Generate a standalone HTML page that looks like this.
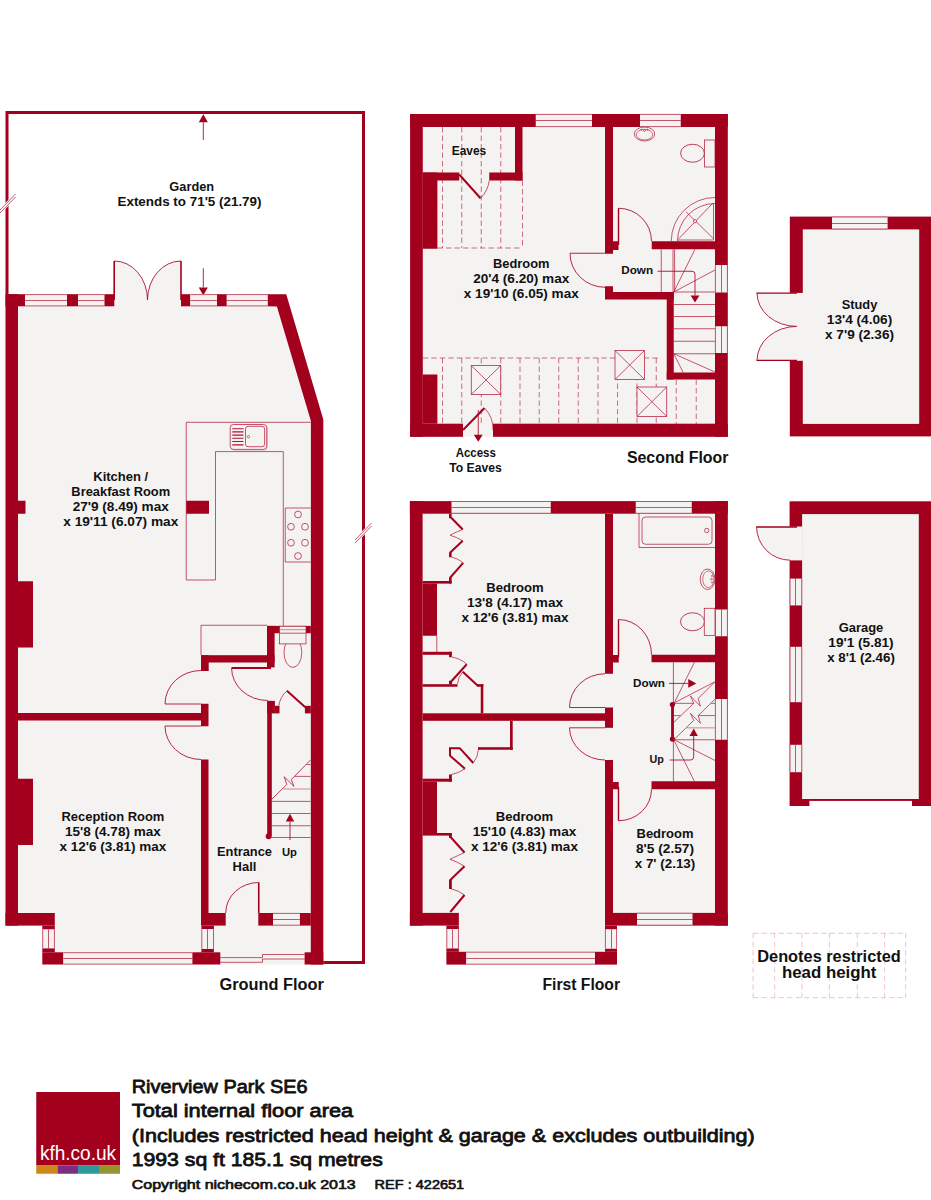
<!DOCTYPE html>
<html><head><meta charset="utf-8"><title>Riverview Park SE6 floor plan</title>
<style>
html,body{margin:0;padding:0;background:#fff;}
svg{display:block;font-family:"Liberation Sans",sans-serif;}
</style></head><body>
<svg width="931" height="1200" viewBox="0 0 931 1200">
<rect width="931" height="1200" fill="#fff"/>
<g id="ground">
<path d="M7 294 V112.5 H363.5 V962.5 H323" stroke="#a3001e" stroke-width="3" fill="none" />
<path d="M-1 212.5 L15.5 195.5" stroke="#fff" stroke-width="4.2" fill="none" />
<line x1="-1.00" y1="211.00" x2="15.50" y2="194.00" stroke="#b01030" stroke-width="0.7" />
<line x1="-1.00" y1="214.00" x2="15.50" y2="197.00" stroke="#b01030" stroke-width="0.7" />
<path d="M355 541.5 L371.5 524.5" stroke="#fff" stroke-width="4.2" fill="none" />
<line x1="355.00" y1="540.00" x2="371.50" y2="523.00" stroke="#b01030" stroke-width="0.7" />
<line x1="355.00" y1="543.00" x2="371.50" y2="526.00" stroke="#b01030" stroke-width="0.7" />
<line x1="203.30" y1="140.00" x2="203.30" y2="122.20" stroke="#b01030" stroke-width="0.9" />
<polygon points="198.80,122.20 207.80,122.20 203.30,114.20" fill="#a3001e" />
<line x1="203.30" y1="268.20" x2="203.30" y2="287.40" stroke="#b01030" stroke-width="0.9" />
<polygon points="198.80,287.40 207.80,287.40 203.30,295.40" fill="#a3001e" />
<polygon points="5.50,294.20 286.25,294.20 323.30,419.60 323.30,964.50 42.30,964.50 42.30,925.60 5.50,925.60" fill="#f4f3f1" />
<path d="M114.3 261 A33.2 39 0 0 1 147.5 300 A33.5 39 0 0 1 181 261 V306 H114.3 Z" stroke="none" stroke-width="0" fill="#f4f3f1" />
<path d="M114.3 261 A33.2 39 0 0 1 147.5 300 A33.5 39 0 0 1 181 261" stroke="#b01030" stroke-width="0.9" fill="none" />
<line x1="114.20" y1="260.90" x2="114.20" y2="300.00" stroke="#a3001e" stroke-width="1.6" />
<line x1="181.00" y1="260.90" x2="181.00" y2="300.00" stroke="#a3001e" stroke-width="1.6" />
<rect x="5.50" y="294.20" width="12.50" height="631.40" fill="#a3001e" />
<rect x="5.50" y="294.20" width="19.50" height="12.10" fill="#a3001e" />
<rect x="25.00" y="294.20" width="42.00" height="12.10" fill="#f4f3f1" />
<line x1="25.00" y1="294.60" x2="67.00" y2="294.60" stroke="#b01030" stroke-width="0.7" />
<line x1="25.00" y1="300.50" x2="67.00" y2="300.50" stroke="#b01030" stroke-width="0.7" />
<line x1="25.00" y1="305.90" x2="67.00" y2="305.90" stroke="#b01030" stroke-width="0.7" />
<rect x="67.00" y="294.20" width="11.00" height="12.10" fill="#a3001e" />
<rect x="78.00" y="294.20" width="26.50" height="12.10" fill="#f4f3f1" />
<line x1="78.00" y1="294.60" x2="104.50" y2="294.60" stroke="#b01030" stroke-width="0.7" />
<line x1="78.00" y1="300.50" x2="104.50" y2="300.50" stroke="#b01030" stroke-width="0.7" />
<line x1="78.00" y1="305.90" x2="104.50" y2="305.90" stroke="#b01030" stroke-width="0.7" />
<rect x="104.50" y="294.20" width="9.80" height="12.10" fill="#a3001e" />
<rect x="181.00" y="294.20" width="9.40" height="12.10" fill="#a3001e" />
<rect x="190.40" y="294.20" width="26.60" height="12.10" fill="#f4f3f1" />
<line x1="190.40" y1="294.60" x2="217.00" y2="294.60" stroke="#b01030" stroke-width="0.7" />
<line x1="190.40" y1="300.50" x2="217.00" y2="300.50" stroke="#b01030" stroke-width="0.7" />
<line x1="190.40" y1="305.90" x2="217.00" y2="305.90" stroke="#b01030" stroke-width="0.7" />
<rect x="217.00" y="294.20" width="9.80" height="12.10" fill="#a3001e" />
<rect x="226.80" y="294.20" width="41.00" height="12.10" fill="#f4f3f1" />
<line x1="226.80" y1="294.60" x2="267.80" y2="294.60" stroke="#b01030" stroke-width="0.7" />
<line x1="226.80" y1="300.50" x2="267.80" y2="300.50" stroke="#b01030" stroke-width="0.7" />
<line x1="226.80" y1="305.90" x2="267.80" y2="305.90" stroke="#b01030" stroke-width="0.7" />
<polygon points="267.80,294.20 286.25,294.20 323.30,419.60 323.30,964.50 310.80,964.50 310.90,421.00 276.90,306.50 267.80,306.30" fill="#a3001e" />
<rect x="18.00" y="500.75" width="7.50" height="13.00" fill="#a3001e" />
<rect x="18.00" y="581.25" width="15.00" height="66.25" fill="#a3001e" />
<rect x="18.00" y="778.75" width="15.00" height="66.25" fill="#a3001e" />
<rect x="18.00" y="713.00" width="183.50" height="7.50" fill="#a3001e" />
<rect x="201.00" y="703.75" width="7.50" height="22.50" fill="#a3001e" />
<rect x="201.00" y="759.50" width="7.50" height="153.50" fill="#a3001e" />
<rect x="201.00" y="913.00" width="24.70" height="12.60" fill="#a3001e" />
<rect x="5.50" y="913.00" width="49.30" height="12.60" fill="#a3001e" />
<rect x="42.30" y="925.60" width="12.50" height="3.90" fill="#a3001e" />
<rect x="42.30" y="929.50" width="12.50" height="18.90" fill="#f4f3f1" />
<line x1="42.70" y1="929.50" x2="42.70" y2="948.40" stroke="#b01030" stroke-width="0.7" />
<line x1="48.50" y1="929.50" x2="48.50" y2="948.40" stroke="#b01030" stroke-width="0.7" />
<line x1="54.40" y1="929.50" x2="54.40" y2="948.40" stroke="#b01030" stroke-width="0.7" />
<rect x="42.30" y="948.40" width="12.50" height="3.90" fill="#a3001e" />
<rect x="42.30" y="952.30" width="21.10" height="12.20" fill="#a3001e" />
<rect x="63.40" y="952.30" width="129.00" height="12.20" fill="#f4f3f1" />
<line x1="63.40" y1="952.70" x2="192.40" y2="952.70" stroke="#b01030" stroke-width="0.7" />
<line x1="63.40" y1="958.50" x2="192.40" y2="958.50" stroke="#b01030" stroke-width="0.7" />
<line x1="63.40" y1="964.10" x2="192.40" y2="964.10" stroke="#b01030" stroke-width="0.7" />
<rect x="192.40" y="952.30" width="27.90" height="12.20" fill="#a3001e" />
<rect x="201.40" y="948.80" width="12.50" height="3.50" fill="#a3001e" />
<rect x="201.40" y="925.60" width="12.50" height="3.60" fill="#a3001e" />
<rect x="201.40" y="929.20" width="12.50" height="19.60" fill="#f4f3f1" />
<line x1="201.80" y1="929.20" x2="201.80" y2="948.80" stroke="#b01030" stroke-width="0.7" />
<line x1="207.50" y1="929.20" x2="207.50" y2="948.80" stroke="#b01030" stroke-width="0.7" />
<line x1="213.50" y1="929.20" x2="213.50" y2="948.80" stroke="#b01030" stroke-width="0.7" />
<rect x="258.30" y="913.00" width="14.70" height="12.60" fill="#a3001e" />
<rect x="273.00" y="913.00" width="26.90" height="12.60" fill="#f4f3f1" />
<line x1="273.00" y1="913.40" x2="299.90" y2="913.40" stroke="#b01030" stroke-width="0.7" />
<line x1="273.00" y1="919.50" x2="299.90" y2="919.50" stroke="#b01030" stroke-width="0.7" />
<line x1="273.00" y1="925.20" x2="299.90" y2="925.20" stroke="#b01030" stroke-width="0.7" />
<rect x="299.90" y="913.00" width="10.90" height="12.60" fill="#a3001e" />
<rect x="304.60" y="952.30" width="18.70" height="12.20" fill="#a3001e" />
<path d="M220.3 957.6 H262.5 V954.5 H304.6" stroke="#b01030" stroke-width="0.7" fill="none" />
<path d="M220.3 962.3 H262.5 V959 H304.6" stroke="#b01030" stroke-width="0.7" fill="none" />
<rect x="201.00" y="655.20" width="73.60" height="7.30" fill="#a3001e" />
<rect x="267.00" y="625.90" width="7.60" height="41.50" fill="#a3001e" />
<rect x="201.00" y="655.20" width="7.70" height="15.80" fill="#a3001e" />
<rect x="267.00" y="625.90" width="43.80" height="7.30" fill="#a3001e" />
<rect x="267.20" y="700.90" width="4.60" height="135.35" fill="#a3001e" />
<circle cx="268.6" cy="836.25" r="2.9" fill="#a3001e"/>
<rect x="267.20" y="700.90" width="7.70" height="12.50" fill="#a3001e" />
<rect x="274.90" y="705.80" width="4.60" height="7.60" fill="#a3001e" />
<rect x="304.90" y="705.80" width="5.90" height="7.60" fill="#a3001e" />
<path d="M310.8 422.3 H186.25 V580 H215.5 V451.6 H283.3 V625.75" stroke="#b01030" stroke-width="0.7" fill="none" />
<rect x="186.25" y="500.75" width="22.75" height="13.00" fill="#a3001e" />
<rect x="231" y="425.3" width="36.5" height="24.9" rx="3.2" fill="none" stroke="#e3b1bb" stroke-width="0.8"/>
<rect x="230.2" y="424.5" width="36.5" height="24.9" rx="3.2" fill="#f4f3f1" stroke="#b01030" stroke-width="0.7"/>
<rect x="245.5" y="426.3" width="19.1" height="20.4" rx="2.6" fill="none" stroke="#b01030" stroke-width="0.7"/>
<line x1="232.70" y1="428.70" x2="243.10" y2="428.70" stroke="#b01030" stroke-width="1.1" stroke-linecap="round"/>
<line x1="232.70" y1="431.90" x2="243.10" y2="431.90" stroke="#b01030" stroke-width="1.1" stroke-linecap="round"/>
<line x1="232.70" y1="435.10" x2="243.10" y2="435.10" stroke="#b01030" stroke-width="1.1" stroke-linecap="round"/>
<line x1="232.70" y1="438.30" x2="243.10" y2="438.30" stroke="#b01030" stroke-width="1.1" stroke-linecap="round"/>
<line x1="232.70" y1="441.50" x2="243.10" y2="441.50" stroke="#b01030" stroke-width="1.1" stroke-linecap="round"/>
<line x1="232.70" y1="444.90" x2="243.10" y2="444.90" stroke="#b01030" stroke-width="1.1" stroke-linecap="round"/>
<circle cx="248.50" cy="436.70" r="1.20" stroke="#b01030" stroke-width="0.6" fill="none"/>
<path d="M310.8 508 H285.25 V562 H310.8" stroke="#b01030" stroke-width="0.7" fill="none" />
<circle cx="298.00" cy="514.50" r="3.40" stroke="#b01030" stroke-width="0.7" fill="none"/>
<circle cx="291.00" cy="526.75" r="3.40" stroke="#b01030" stroke-width="0.7" fill="none"/>
<circle cx="305.00" cy="526.75" r="3.40" stroke="#b01030" stroke-width="0.7" fill="none"/>
<circle cx="291.00" cy="542.75" r="3.40" stroke="#b01030" stroke-width="0.7" fill="none"/>
<circle cx="305.00" cy="542.75" r="3.40" stroke="#b01030" stroke-width="0.7" fill="none"/>
<circle cx="298.00" cy="556.00" r="3.40" stroke="#b01030" stroke-width="0.7" fill="none"/>
<path d="M201 655 V625.25 H267" stroke="#b01030" stroke-width="0.7" fill="none" />
<ellipse cx="292.90" cy="652.50" rx="8.90" ry="14.90" stroke="#b01030" stroke-width="0.7" fill="none"/>
<rect x="279.50" y="626.20" width="26.50" height="17.70" fill="#f4f3f1" stroke="#b01030" stroke-width="0.7"/>
<line x1="279.50" y1="633.20" x2="306.00" y2="633.20" stroke="#b01030" stroke-width="0.7" />
<line x1="279.50" y1="629.70" x2="306.00" y2="629.70" stroke="#b01030" stroke-width="0.5" />
<path d="M201 670.5 A36 33.5 0 0 0 165 704 H201" stroke="#b01030" stroke-width="0.9" fill="none" />
<path d="M201 759.5 A36 33.5 0 0 1 165 726 H201" stroke="#b01030" stroke-width="0.9" fill="none" />
<path d="M231.6 668 A36 32.5 0 0 0 267.6 700.5" stroke="#b01030" stroke-width="0.9" fill="none" />
<line x1="231.60" y1="668.00" x2="271.00" y2="668.00" stroke="#a3001e" stroke-width="1.8" />
<line x1="286.90" y1="690.80" x2="305.30" y2="707.20" stroke="#a3001e" stroke-width="2" />
<path d="M286.9 690.8 A25 25 0 0 0 278.8 705.8" stroke="#b01030" stroke-width="0.7" fill="none" />
<line x1="270.00" y1="801.40" x2="310.60" y2="801.40" stroke="#b01030" stroke-width="0.7" />
<line x1="270.00" y1="813.50" x2="310.60" y2="813.50" stroke="#b01030" stroke-width="0.7" />
<line x1="270.00" y1="825.75" x2="310.60" y2="825.75" stroke="#b01030" stroke-width="0.7" />
<line x1="270.00" y1="837.50" x2="310.60" y2="837.50" stroke="#b01030" stroke-width="0.7" />
<line x1="306.50" y1="764.50" x2="310.60" y2="764.50" stroke="#b01030" stroke-width="0.7" />
<line x1="294.90" y1="776.40" x2="310.60" y2="776.40" stroke="#b01030" stroke-width="0.7" />
<line x1="283.30" y1="789.00" x2="310.60" y2="789.00" stroke="#dba3ae" stroke-width="1.4" />
<path d="M270.05 800.9 L286.8 784.5 L284.2 776.7 L293.9 786.4 L291.3 779.6 L310.8 759.7" stroke="#b01030" stroke-width="0.8" fill="none" stroke-linejoin="miter"/>
<line x1="290.00" y1="840.00" x2="290.00" y2="821.50" stroke="#b01030" stroke-width="0.9" />
<polygon points="285.80,821.50 294.20,821.50 290.00,813.80" fill="#a3001e" />
<line x1="258.75" y1="882.50" x2="258.75" y2="913.00" stroke="#a3001e" stroke-width="1.6" />
<path d="M225.7 913 A33 30.5 0 0 1 258.75 882.5" stroke="#b01030" stroke-width="0.9" fill="none" />
<text x="191.75" y="190.50" font-size="12.5" font-weight="bold" text-anchor="middle" fill="#111" textLength="44.8" lengthAdjust="spacingAndGlyphs" >Garden</text>
<text x="189.50" y="205.50" font-size="12.5" font-weight="bold" text-anchor="middle" fill="#111" textLength="144.0" lengthAdjust="spacingAndGlyphs" >Extends to 71'5 (21.79)</text>
<text x="120.75" y="480.50" font-size="12.5" font-weight="bold" text-anchor="middle" fill="#111" textLength="55.0" lengthAdjust="spacingAndGlyphs" >Kitchen /</text>
<text x="120.75" y="495.50" font-size="12.5" font-weight="bold" text-anchor="middle" fill="#111" textLength="98.8" lengthAdjust="spacingAndGlyphs" >Breakfast Room</text>
<text x="120.75" y="510.50" font-size="12.5" font-weight="bold" text-anchor="middle" fill="#111" textLength="96.2" lengthAdjust="spacingAndGlyphs" >27'9 (8.49) max</text>
<text x="120.75" y="525.50" font-size="12.5" font-weight="bold" text-anchor="middle" fill="#111" textLength="115.0" lengthAdjust="spacingAndGlyphs" >x 19'11 (6.07) max</text>
<text x="112.90" y="821.25" font-size="12.5" font-weight="bold" text-anchor="middle" fill="#111" textLength="103.0" lengthAdjust="spacingAndGlyphs" >Reception Room</text>
<text x="112.90" y="836.25" font-size="12.5" font-weight="bold" text-anchor="middle" fill="#111" textLength="95.8" lengthAdjust="spacingAndGlyphs" >15'8 (4.78) max</text>
<text x="112.90" y="851.25" font-size="12.5" font-weight="bold" text-anchor="middle" fill="#111" textLength="106.8" lengthAdjust="spacingAndGlyphs" >x 12'6 (3.81) max</text>
<text x="244.50" y="856.20" font-size="12.5" font-weight="bold" text-anchor="middle" fill="#111" textLength="55.0" lengthAdjust="spacingAndGlyphs" >Entrance</text>
<text x="244.50" y="870.50" font-size="12.5" font-weight="bold" text-anchor="middle" fill="#111" textLength="23.8" lengthAdjust="spacingAndGlyphs" >Hall</text>
<text x="289.50" y="855.50" font-size="10.576923076923077" font-weight="bold" text-anchor="middle" fill="#111" textLength="15.0" lengthAdjust="spacingAndGlyphs" >Up</text>
<text x="271.60" y="990.00" font-size="16" font-weight="bold" text-anchor="middle" fill="#111" textLength="104.3" lengthAdjust="spacingAndGlyphs" >Ground Floor</text>
</g>
<g id="second">
<rect x="410.10" y="114.00" width="317.70" height="322.80" fill="#f4f3f1" />
<line x1="442.50" y1="127.00" x2="442.50" y2="248.00" stroke="#b01030" stroke-width="0.6" stroke-dasharray="5.4 3.1"/>
<line x1="461.75" y1="127.00" x2="461.75" y2="248.00" stroke="#b01030" stroke-width="0.6" stroke-dasharray="5.4 3.1"/>
<line x1="481.25" y1="127.00" x2="481.25" y2="248.00" stroke="#b01030" stroke-width="0.6" stroke-dasharray="5.4 3.1"/>
<line x1="500.75" y1="127.00" x2="500.75" y2="248.00" stroke="#b01030" stroke-width="0.6" stroke-dasharray="5.4 3.1"/>
<line x1="522.50" y1="180.50" x2="522.50" y2="248.00" stroke="#b01030" stroke-width="0.6" stroke-dasharray="5.4 3.1"/>
<line x1="437.50" y1="248.00" x2="522.50" y2="248.00" stroke="#b01030" stroke-width="0.6" stroke-dasharray="5.4 3.1"/>
<line x1="422.80" y1="358.00" x2="661.00" y2="358.00" stroke="#b01030" stroke-width="0.6" stroke-dasharray="5.4 3.1"/>
<line x1="442.50" y1="358.00" x2="442.50" y2="423.70" stroke="#b01030" stroke-width="0.6" stroke-dasharray="5.4 3.1"/>
<line x1="461.75" y1="358.00" x2="461.75" y2="423.70" stroke="#b01030" stroke-width="0.6" stroke-dasharray="5.4 3.1"/>
<line x1="481.25" y1="358.00" x2="481.25" y2="423.70" stroke="#b01030" stroke-width="0.6" stroke-dasharray="5.4 3.1"/>
<line x1="500.75" y1="358.00" x2="500.75" y2="423.70" stroke="#b01030" stroke-width="0.6" stroke-dasharray="5.4 3.1"/>
<line x1="520.00" y1="358.00" x2="520.00" y2="423.70" stroke="#b01030" stroke-width="0.6" stroke-dasharray="5.4 3.1"/>
<line x1="539.25" y1="358.00" x2="539.25" y2="423.70" stroke="#b01030" stroke-width="0.6" stroke-dasharray="5.4 3.1"/>
<line x1="558.75" y1="358.00" x2="558.75" y2="423.70" stroke="#b01030" stroke-width="0.6" stroke-dasharray="5.4 3.1"/>
<line x1="578.25" y1="358.00" x2="578.25" y2="423.70" stroke="#b01030" stroke-width="0.6" stroke-dasharray="5.4 3.1"/>
<line x1="598.00" y1="358.00" x2="598.00" y2="423.70" stroke="#b01030" stroke-width="0.6" stroke-dasharray="5.4 3.1"/>
<line x1="617.50" y1="358.00" x2="617.50" y2="423.70" stroke="#b01030" stroke-width="0.6" stroke-dasharray="5.4 3.1"/>
<line x1="637.00" y1="358.00" x2="637.00" y2="423.70" stroke="#b01030" stroke-width="0.6" stroke-dasharray="5.4 3.1"/>
<line x1="656.25" y1="358.00" x2="656.25" y2="423.70" stroke="#b01030" stroke-width="0.6" stroke-dasharray="5.4 3.1"/>
<line x1="676.25" y1="379.50" x2="676.25" y2="423.70" stroke="#b01030" stroke-width="0.6" stroke-dasharray="5.4 3.1"/>
<line x1="696.25" y1="379.50" x2="696.25" y2="423.70" stroke="#b01030" stroke-width="0.6" stroke-dasharray="5.4 3.1"/>
<rect x="471.25" y="365.50" width="29.50" height="29.00" fill="#f4f3f1" stroke="#b01030" stroke-width="0.7"/>
<line x1="471.25" y1="365.50" x2="500.75" y2="394.50" stroke="#b01030" stroke-width="0.7" />
<line x1="471.25" y1="394.50" x2="500.75" y2="365.50" stroke="#b01030" stroke-width="0.7" />
<rect x="615.00" y="350.50" width="29.50" height="29.00" fill="#f4f3f1" stroke="#b01030" stroke-width="0.7"/>
<line x1="615.00" y1="350.50" x2="644.50" y2="379.50" stroke="#b01030" stroke-width="0.7" />
<line x1="615.00" y1="379.50" x2="644.50" y2="350.50" stroke="#b01030" stroke-width="0.7" />
<rect x="637.00" y="387.00" width="29.75" height="29.50" fill="#f4f3f1" stroke="#b01030" stroke-width="0.7"/>
<line x1="637.00" y1="387.00" x2="666.75" y2="416.50" stroke="#b01030" stroke-width="0.7" />
<line x1="637.00" y1="416.50" x2="666.75" y2="387.00" stroke="#b01030" stroke-width="0.7" />
<rect x="410.10" y="114.00" width="12.70" height="322.80" fill="#a3001e" />
<rect x="410.10" y="114.00" width="317.70" height="13.00" fill="#a3001e" />
<rect x="535.75" y="114.00" width="56.25" height="13.00" fill="#f4f3f1" />
<line x1="535.75" y1="114.40" x2="592.00" y2="114.40" stroke="#b01030" stroke-width="0.7" />
<line x1="535.75" y1="120.50" x2="592.00" y2="120.50" stroke="#b01030" stroke-width="0.7" />
<line x1="535.75" y1="126.60" x2="592.00" y2="126.60" stroke="#b01030" stroke-width="0.7" />
<rect x="640.00" y="114.00" width="40.75" height="13.00" fill="#f4f3f1" />
<line x1="640.00" y1="114.40" x2="680.75" y2="114.40" stroke="#b01030" stroke-width="0.7" />
<line x1="640.00" y1="120.50" x2="680.75" y2="120.50" stroke="#b01030" stroke-width="0.7" />
<line x1="640.00" y1="126.60" x2="680.75" y2="126.60" stroke="#b01030" stroke-width="0.7" />
<rect x="715.00" y="114.00" width="12.80" height="322.80" fill="#a3001e" />
<rect x="715.00" y="265.00" width="12.80" height="27.50" fill="#f4f3f1" />
<line x1="715.40" y1="265.00" x2="715.40" y2="292.50" stroke="#b01030" stroke-width="0.7" />
<line x1="721.50" y1="265.00" x2="721.50" y2="292.50" stroke="#b01030" stroke-width="0.7" />
<line x1="727.40" y1="265.00" x2="727.40" y2="292.50" stroke="#b01030" stroke-width="0.7" />
<rect x="715.00" y="326.25" width="12.80" height="26.75" fill="#f4f3f1" />
<line x1="715.40" y1="326.25" x2="715.40" y2="353.00" stroke="#b01030" stroke-width="0.7" />
<line x1="721.50" y1="326.25" x2="721.50" y2="353.00" stroke="#b01030" stroke-width="0.7" />
<line x1="727.40" y1="326.25" x2="727.40" y2="353.00" stroke="#b01030" stroke-width="0.7" />
<rect x="410.10" y="423.70" width="52.90" height="13.10" fill="#a3001e" />
<rect x="493.00" y="423.70" width="234.80" height="13.10" fill="#a3001e" />
<rect x="515.00" y="127.00" width="7.50" height="53.50" fill="#a3001e" />
<rect x="422.80" y="172.50" width="36.45" height="8.00" fill="#a3001e" />
<rect x="489.25" y="172.50" width="33.25" height="8.00" fill="#a3001e" />
<rect x="422.80" y="172.50" width="14.60" height="76.25" fill="#a3001e" />
<rect x="422.80" y="374.50" width="14.60" height="49.20" fill="#a3001e" />
<rect x="605.00" y="127.00" width="8.00" height="126.75" fill="#a3001e" />
<rect x="613.00" y="241.25" width="5.50" height="8.75" fill="#a3001e" />
<rect x="651.75" y="241.25" width="63.25" height="8.00" fill="#a3001e" />
<rect x="605.00" y="292.00" width="68.75" height="7.50" fill="#a3001e" />
<rect x="605.00" y="286.25" width="8.00" height="5.75" fill="#a3001e" />
<rect x="666.75" y="292.00" width="7.00" height="87.50" fill="#a3001e" />
<rect x="666.75" y="372.50" width="48.25" height="7.00" fill="#a3001e" />
<line x1="459.25" y1="174.50" x2="480.50" y2="198.25" stroke="#a3001e" stroke-width="2" />
<path d="M480.5 198.25 A30 30 0 0 0 489.25 180.5" stroke="#b01030" stroke-width="0.7" fill="none" />
<line x1="463.00" y1="430.00" x2="484.50" y2="408.00" stroke="#a3001e" stroke-width="2" />
<path d="M484.5 408 A30 30 0 0 1 493 430" stroke="#b01030" stroke-width="0.7" fill="none" />
<line x1="478.25" y1="410.00" x2="478.25" y2="434.75" stroke="#b01030" stroke-width="0.9" />
<polygon points="473.85,434.75 482.65,434.75 478.25,441.75" fill="#a3001e" />
<path d="M605 253.25 H570 A35 34 0 0 0 605 287.25" stroke="#b01030" stroke-width="0.9" fill="none" />
<line x1="618.50" y1="208.25" x2="618.50" y2="245.00" stroke="#a3001e" stroke-width="1.4" />
<path d="M618.5 208.25 A33 33 0 0 1 651.5 241.25" stroke="#b01030" stroke-width="0.9" fill="none" />
<ellipse cx="644.50" cy="134.00" rx="10.20" ry="7.00" stroke="#b01030" stroke-width="0.7" fill="none"/>
<ellipse cx="644.50" cy="134.60" rx="8.20" ry="5.30" stroke="#b01030" stroke-width="0.6" fill="none"/>
<circle cx="644.50" cy="130.60" r="0.90" stroke="#b01030" stroke-width="0.6" fill="none"/>
<circle cx="641.50" cy="129.80" r="0.70" stroke="#b01030" stroke-width="0.5" fill="none"/>
<circle cx="647.50" cy="129.80" r="0.70" stroke="#b01030" stroke-width="0.5" fill="none"/>
<ellipse cx="692.50" cy="153.25" rx="11.90" ry="9.00" stroke="#b01030" stroke-width="0.8" fill="#f4f3f1"/>
<rect x="704.50" y="140.00" width="10.50" height="27.00" fill="#f4f3f1" stroke="#b01030" stroke-width="0.7"/>
<path d="M671.25 241 A43.75 43.75 0 0 1 715 197.5" stroke="#b01030" stroke-width="0.7" fill="none" />
<path d="M677.5 241 A37.5 37.5 0 0 1 715 203.5" stroke="#b01030" stroke-width="0.7" fill="none" />
<line x1="677.50" y1="240.00" x2="713.50" y2="240.00" stroke="#b01030" stroke-width="0.7" />
<line x1="713.50" y1="203.50" x2="713.50" y2="240.00" stroke="#b01030" stroke-width="0.7" />
<line x1="678.75" y1="238.75" x2="713.00" y2="203.00" stroke="#b01030" stroke-width="0.7" />
<line x1="713.00" y1="238.25" x2="686.00" y2="211.75" stroke="#b01030" stroke-width="0.7" />
<circle cx="695.00" cy="221.25" r="1.60" stroke="#b01030" stroke-width="0.7" fill="#f4f3f1"/>
<line x1="661.25" y1="249.25" x2="661.25" y2="292.00" stroke="#b01030" stroke-width="0.7" />
<line x1="673.00" y1="249.25" x2="673.00" y2="292.00" stroke="#b01030" stroke-width="0.7" />
<line x1="674.60" y1="249.25" x2="674.60" y2="292.00" stroke="#b01030" stroke-width="0.7" />
<line x1="673.75" y1="292.00" x2="715.00" y2="292.00" stroke="#b01030" stroke-width="0.7" />
<line x1="673.75" y1="292.00" x2="695.00" y2="249.25" stroke="#b01030" stroke-width="0.7" />
<line x1="673.75" y1="292.00" x2="715.00" y2="270.00" stroke="#b01030" stroke-width="0.7" />
<line x1="673.75" y1="304.50" x2="715.00" y2="304.50" stroke="#b01030" stroke-width="0.7" />
<line x1="673.75" y1="316.50" x2="715.00" y2="316.50" stroke="#b01030" stroke-width="0.7" />
<line x1="673.75" y1="328.75" x2="715.00" y2="328.75" stroke="#b01030" stroke-width="0.7" />
<line x1="673.75" y1="341.25" x2="715.00" y2="341.25" stroke="#b01030" stroke-width="0.7" />
<line x1="673.75" y1="353.75" x2="715.00" y2="353.75" stroke="#b01030" stroke-width="0.7" />
<line x1="673.75" y1="353.75" x2="715.00" y2="372.00" stroke="#b01030" stroke-width="0.7" />
<line x1="673.75" y1="353.75" x2="683.25" y2="372.50" stroke="#b01030" stroke-width="0.7" />
<path d="M657.5 271.25 H692 Q695 271.25 695 274.25 V295.5" stroke="#b01030" stroke-width="0.9" fill="none" />
<polygon points="690.60,295.50 699.40,295.50 695.00,302.50" fill="#a3001e" />
<text x="451.75" y="154.50" font-size="12.5" font-weight="bold" text-anchor="start" fill="#111" textLength="34.5" lengthAdjust="spacingAndGlyphs" >Eaves</text>
<text x="521.25" y="268.00" font-size="12.5" font-weight="bold" text-anchor="middle" fill="#111" textLength="56.5" lengthAdjust="spacingAndGlyphs" >Bedroom</text>
<text x="521.25" y="283.00" font-size="12.5" font-weight="bold" text-anchor="middle" fill="#111" textLength="96.2" lengthAdjust="spacingAndGlyphs" >20'4 (6.20) max</text>
<text x="521.25" y="298.00" font-size="12.5" font-weight="bold" text-anchor="middle" fill="#111" textLength="115.0" lengthAdjust="spacingAndGlyphs" >x 19'10 (6.05) max</text>
<text x="621.25" y="274.25" font-size="10.576923076923077" font-weight="bold" text-anchor="start" fill="#111" textLength="31.8" lengthAdjust="spacingAndGlyphs" >Down</text>
<text x="475.75" y="457.00" font-size="12.5" font-weight="bold" text-anchor="middle" fill="#111" textLength="40.2" lengthAdjust="spacingAndGlyphs" >Access</text>
<text x="475.50" y="472.00" font-size="12.5" font-weight="bold" text-anchor="middle" fill="#111" textLength="52.5" lengthAdjust="spacingAndGlyphs" >To Eaves</text>
<text x="677.70" y="463.00" font-size="16" font-weight="bold" text-anchor="middle" fill="#111" textLength="101.6" lengthAdjust="spacingAndGlyphs" >Second Floor</text>
</g>
<g id="first">
<polygon points="409.90,501.10 727.80,501.10 727.80,925.60 617.00,925.60 617.00,964.60 446.40,964.60 446.40,925.60 409.90,925.60" fill="#f4f3f1" />
<rect x="409.90" y="501.10" width="12.70" height="424.50" fill="#a3001e" />
<rect x="409.90" y="501.10" width="317.90" height="12.60" fill="#a3001e" />
<rect x="451.50" y="501.10" width="99.25" height="12.60" fill="#f4f3f1" />
<line x1="451.50" y1="501.50" x2="550.75" y2="501.50" stroke="#b01030" stroke-width="0.7" />
<line x1="451.50" y1="507.50" x2="550.75" y2="507.50" stroke="#b01030" stroke-width="0.7" />
<line x1="451.50" y1="513.30" x2="550.75" y2="513.30" stroke="#b01030" stroke-width="0.7" />
<rect x="635.75" y="501.10" width="56.00" height="12.60" fill="#f4f3f1" />
<line x1="635.75" y1="501.50" x2="691.75" y2="501.50" stroke="#b01030" stroke-width="0.7" />
<line x1="635.75" y1="507.50" x2="691.75" y2="507.50" stroke="#b01030" stroke-width="0.7" />
<line x1="635.75" y1="513.30" x2="691.75" y2="513.30" stroke="#b01030" stroke-width="0.7" />
<rect x="715.00" y="501.10" width="12.80" height="424.50" fill="#a3001e" />
<rect x="715.00" y="609.50" width="12.80" height="26.75" fill="#f4f3f1" />
<line x1="715.40" y1="609.50" x2="715.40" y2="636.25" stroke="#b01030" stroke-width="0.7" />
<line x1="721.50" y1="609.50" x2="721.50" y2="636.25" stroke="#b01030" stroke-width="0.7" />
<line x1="727.40" y1="609.50" x2="727.40" y2="636.25" stroke="#b01030" stroke-width="0.7" />
<rect x="715.00" y="699.00" width="12.80" height="40.75" fill="#f4f3f1" />
<line x1="715.40" y1="699.00" x2="715.40" y2="739.75" stroke="#b01030" stroke-width="0.7" />
<line x1="721.50" y1="699.00" x2="721.50" y2="739.75" stroke="#b01030" stroke-width="0.7" />
<line x1="727.40" y1="699.00" x2="727.40" y2="739.75" stroke="#b01030" stroke-width="0.7" />
<rect x="409.90" y="912.90" width="48.95" height="12.70" fill="#a3001e" />
<rect x="446.40" y="925.60" width="12.45" height="3.60" fill="#a3001e" />
<rect x="446.40" y="929.20" width="12.45" height="19.30" fill="#f4f3f1" />
<line x1="446.80" y1="929.20" x2="446.80" y2="948.50" stroke="#b01030" stroke-width="0.7" />
<line x1="452.50" y1="929.20" x2="452.50" y2="948.50" stroke="#b01030" stroke-width="0.7" />
<line x1="458.45" y1="929.20" x2="458.45" y2="948.50" stroke="#b01030" stroke-width="0.7" />
<rect x="446.40" y="948.50" width="12.45" height="3.30" fill="#a3001e" />
<rect x="446.40" y="951.80" width="19.90" height="12.80" fill="#a3001e" />
<rect x="466.30" y="951.80" width="128.70" height="12.80" fill="#f4f3f1" />
<line x1="466.30" y1="952.20" x2="595.00" y2="952.20" stroke="#b01030" stroke-width="0.7" />
<line x1="466.30" y1="958.50" x2="595.00" y2="958.50" stroke="#b01030" stroke-width="0.7" />
<line x1="466.30" y1="964.20" x2="595.00" y2="964.20" stroke="#b01030" stroke-width="0.7" />
<rect x="595.00" y="951.80" width="22.00" height="12.80" fill="#a3001e" />
<rect x="605.00" y="948.50" width="12.00" height="3.30" fill="#a3001e" />
<rect x="605.00" y="929.20" width="12.00" height="19.30" fill="#f4f3f1" />
<line x1="605.40" y1="929.20" x2="605.40" y2="948.50" stroke="#b01030" stroke-width="0.7" />
<line x1="611.50" y1="929.20" x2="611.50" y2="948.50" stroke="#b01030" stroke-width="0.7" />
<line x1="616.60" y1="929.20" x2="616.60" y2="948.50" stroke="#b01030" stroke-width="0.7" />
<rect x="605.00" y="925.60" width="12.00" height="3.60" fill="#a3001e" />
<rect x="605.00" y="912.90" width="122.80" height="12.70" fill="#a3001e" />
<rect x="637.00" y="912.90" width="55.50" height="12.70" fill="#f4f3f1" />
<line x1="637.00" y1="913.30" x2="692.50" y2="913.30" stroke="#b01030" stroke-width="0.7" />
<line x1="637.00" y1="919.50" x2="692.50" y2="919.50" stroke="#b01030" stroke-width="0.7" />
<line x1="637.00" y1="925.20" x2="692.50" y2="925.20" stroke="#b01030" stroke-width="0.7" />
<rect x="605.00" y="513.70" width="8.00" height="160.05" fill="#a3001e" />
<rect x="605.00" y="760.00" width="8.00" height="153.00" fill="#a3001e" />
<rect x="422.60" y="713.30" width="182.40" height="7.50" fill="#a3001e" />
<rect x="605.00" y="707.50" width="8.00" height="20.30" fill="#a3001e" />
<rect x="651.50" y="654.75" width="63.50" height="7.50" fill="#a3001e" />
<rect x="613.00" y="655.00" width="5.75" height="7.50" fill="#a3001e" />
<rect x="651.50" y="781.25" width="63.50" height="8.00" fill="#a3001e" />
<rect x="613.00" y="782.00" width="5.75" height="7.25" fill="#a3001e" />
<rect x="422.60" y="583.50" width="14.40" height="52.25" fill="#a3001e" />
<rect x="422.60" y="781.70" width="14.40" height="51.30" fill="#a3001e" />
<rect x="449.00" y="513.70" width="2.60" height="4.55" fill="#a3001e" />
<path d="M451 517.5 L462.75 529.5" stroke="#a3001e" stroke-width="2" fill="none" />
<path d="M462.75 529.5 Q456 532 450 535.2 Q456 537 462.75 540.75" stroke="#b01030" stroke-width="0.7" fill="none" />
<path d="M462.75 540.75 L450 552.75" stroke="#a3001e" stroke-width="2" fill="none" />
<rect x="449.00" y="552.25" width="2.60" height="4.95" fill="#a3001e" />
<path d="M451 556.8 Q458 558.5 463.2 562.8" stroke="#b01030" stroke-width="0.7" fill="none" />
<path d="M463.2 562.8 L450.3 577.5" stroke="#a3001e" stroke-width="2" fill="none" />
<rect x="449.00" y="577.20" width="2.60" height="6.30" fill="#a3001e" />
<rect x="422.60" y="581.00" width="29.00" height="2.60" fill="#a3001e" />
<line x1="436.80" y1="635.75" x2="436.80" y2="652.00" stroke="#b01030" stroke-width="0.7" />
<rect x="422.60" y="651.80" width="29.20" height="3.00" fill="#a3001e" />
<rect x="449.00" y="651.80" width="2.80" height="5.40" fill="#a3001e" />
<path d="M450.3 682.5 L466.8 664.25" stroke="#a3001e" stroke-width="2" fill="none" />
<path d="M451.8 657 Q460.5 658.5 466.8 664.25" stroke="#b01030" stroke-width="0.7" fill="none" />
<path d="M462.75 671.75 L477.5 685.5" stroke="#a3001e" stroke-width="2" fill="none" />
<path d="M462.75 671.75 Q458 677 457.5 684" stroke="#b01030" stroke-width="0.7" fill="none" />
<rect x="422.60" y="684.20" width="34.90" height="2.55" fill="#a3001e" />
<rect x="449.00" y="680.75" width="3.00" height="3.75" fill="#a3001e" />
<rect x="477.00" y="684.20" width="6.30" height="2.55" fill="#a3001e" />
<rect x="480.75" y="684.20" width="2.55" height="29.10" fill="#a3001e" />
<rect x="510.00" y="720.80" width="2.70" height="28.95" fill="#a3001e" />
<rect x="478.00" y="747.20" width="34.70" height="2.55" fill="#a3001e" />
<path d="M459.75 748.2 L473.25 763" stroke="#a3001e" stroke-width="2" fill="none" />
<path d="M473.25 763 Q478 757 478.5 749" stroke="#b01030" stroke-width="0.7" fill="none" />
<path d="M450 756 V748.2 H460" stroke="#a3001e" stroke-width="2" fill="none" />
<path d="M450 755.75 L465 768.7" stroke="#a3001e" stroke-width="2" fill="none" />
<path d="M465 768.7 Q459 773 451.5 774.5" stroke="#b01030" stroke-width="0.7" fill="none" />
<rect x="422.60" y="778.70" width="29.20" height="3.00" fill="#a3001e" />
<rect x="449.00" y="774.50" width="2.80" height="7.20" fill="#a3001e" />
<rect x="422.60" y="833.00" width="29.20" height="2.60" fill="#a3001e" />
<rect x="449.00" y="833.00" width="2.80" height="5.00" fill="#a3001e" />
<path d="M451 837.5 L464.5 852.5" stroke="#a3001e" stroke-width="2" fill="none" />
<path d="M464.5 852.5 Q457 856 450 859.25 Q457 861.5 464.5 866.25" stroke="#b01030" stroke-width="0.7" fill="none" />
<path d="M464.5 866.25 L450.3 880" stroke="#a3001e" stroke-width="2" fill="none" />
<rect x="449.00" y="879.50" width="2.80" height="9.50" fill="#a3001e" />
<path d="M451 888.75 Q458.5 890.5 464.5 895" stroke="#b01030" stroke-width="0.7" fill="none" />
<path d="M464.5 895 L450.3 912" stroke="#a3001e" stroke-width="2" fill="none" />
<path d="M715 547.5 H639 V513.7" stroke="#b01030" stroke-width="0.7" fill="none" />
<rect x="642" y="517" width="70" height="27.25" rx="3.5" fill="none" stroke="#b01030" stroke-width="0.7"/>
<circle cx="706.75" cy="530.50" r="2.20" stroke="#b01030" stroke-width="0.7" fill="none"/>
<ellipse cx="707.60" cy="579.25" rx="7.40" ry="10.25" stroke="#b01030" stroke-width="0.7" fill="none"/>
<ellipse cx="708.30" cy="579.25" rx="5.60" ry="8.30" stroke="#b01030" stroke-width="0.6" fill="none"/>
<circle cx="711.50" cy="579.25" r="0.90" stroke="#b01030" stroke-width="0.6" fill="none"/>
<circle cx="712.00" cy="576.00" r="0.70" stroke="#b01030" stroke-width="0.5" fill="none"/>
<circle cx="712.00" cy="582.50" r="0.70" stroke="#b01030" stroke-width="0.5" fill="none"/>
<ellipse cx="692.50" cy="621.75" rx="12.00" ry="9.00" stroke="#b01030" stroke-width="0.8" fill="#f4f3f1"/>
<rect x="704.25" y="608.25" width="10.75" height="27.25" fill="#f4f3f1" stroke="#b01030" stroke-width="0.7"/>
<line x1="618.50" y1="619.50" x2="618.50" y2="657.00" stroke="#a3001e" stroke-width="1.4" />
<path d="M618.5 619.5 A33 35 0 0 1 651.5 654.75" stroke="#b01030" stroke-width="0.9" fill="none" />
<path d="M605 673.75 A35.5 33.75 0 0 0 569.5 707.5 H605" stroke="#b01030" stroke-width="0.9" fill="none" />
<path d="M605 760 A35.5 32.5 0 0 1 569.5 727.8 H605" stroke="#b01030" stroke-width="0.9" fill="none" />
<line x1="618.50" y1="787.00" x2="618.50" y2="820.75" stroke="#a3001e" stroke-width="1.4" />
<path d="M618.5 820.75 A33 31.5 0 0 0 651.5 789.25" stroke="#b01030" stroke-width="0.9" fill="none" />
<line x1="673.40" y1="662.25" x2="673.40" y2="781.25" stroke="#b01030" stroke-width="0.7" />
<rect x="671.10" y="704.60" width="2.70" height="34.50" fill="#a3001e" />
<circle cx="672.4" cy="704.6" r="2.6" fill="#a3001e"/><circle cx="672.4" cy="739.1" r="2.6" fill="#a3001e"/>
<line x1="673.50" y1="704.40" x2="694.40" y2="662.25" stroke="#b01030" stroke-width="0.7" />
<line x1="673.50" y1="703.20" x2="714.90" y2="681.80" stroke="#b01030" stroke-width="0.7" />
<line x1="673.50" y1="703.35" x2="693.70" y2="703.35" stroke="#b01030" stroke-width="0.7" />
<line x1="711.40" y1="703.35" x2="715.00" y2="703.35" stroke="#b01030" stroke-width="0.7" />
<path d="M673.5 722.7 L693.7 703.35 L690.45 695.9 L700.4 706.25 L698.2 698.5 L714.9 681.8" stroke="#b01030" stroke-width="0.7" fill="none" />
<path d="M675 738.7 L693.7 720.4 L690.45 713.3 L700.4 723.3 L698.2 715.6 L714.9 699.2" stroke="#b01030" stroke-width="0.7" fill="none" />
<line x1="673.50" y1="715.60" x2="680.50" y2="715.60" stroke="#b01030" stroke-width="0.7" />
<line x1="698.20" y1="715.60" x2="715.00" y2="715.60" stroke="#b01030" stroke-width="0.7" />
<line x1="686.90" y1="727.80" x2="715.00" y2="727.80" stroke="#dba3ae" stroke-width="1.4" />
<line x1="673.50" y1="739.75" x2="715.00" y2="739.75" stroke="#b01030" stroke-width="0.7" />
<line x1="673.50" y1="739.40" x2="715.25" y2="760.60" stroke="#b01030" stroke-width="0.7" />
<line x1="673.50" y1="739.40" x2="694.40" y2="781.25" stroke="#b01030" stroke-width="0.7" />
<line x1="669.00" y1="683.40" x2="688.25" y2="683.40" stroke="#b01030" stroke-width="0.9" />
<polygon points="688.25,679.10 688.25,687.70 696.25,683.40" fill="#a3001e" />
<path d="M669.75 760 H690.5 Q693.7 760 693.7 756.8 V735.9" stroke="#b01030" stroke-width="0.9" fill="none" />
<polygon points="689.50,735.90 697.90,735.90 693.70,728.50" fill="#a3001e" />
<text x="515.00" y="592.00" font-size="12.5" font-weight="bold" text-anchor="middle" fill="#111" textLength="57.5" lengthAdjust="spacingAndGlyphs" >Bedroom</text>
<text x="515.00" y="607.00" font-size="12.5" font-weight="bold" text-anchor="middle" fill="#111" textLength="96.0" lengthAdjust="spacingAndGlyphs" >13'8 (4.17) max</text>
<text x="515.00" y="622.00" font-size="12.5" font-weight="bold" text-anchor="middle" fill="#111" textLength="107.0" lengthAdjust="spacingAndGlyphs" >x 12'6 (3.81) max</text>
<text x="524.50" y="821.25" font-size="12.5" font-weight="bold" text-anchor="middle" fill="#111" textLength="57.5" lengthAdjust="spacingAndGlyphs" >Bedroom</text>
<text x="524.50" y="836.25" font-size="12.5" font-weight="bold" text-anchor="middle" fill="#111" textLength="103.5" lengthAdjust="spacingAndGlyphs" >15'10 (4.83) max</text>
<text x="524.50" y="851.25" font-size="12.5" font-weight="bold" text-anchor="middle" fill="#111" textLength="106.8" lengthAdjust="spacingAndGlyphs" >x 12'6 (3.81) max</text>
<text x="665.00" y="838.25" font-size="12.5" font-weight="bold" text-anchor="middle" fill="#111" textLength="57.0" lengthAdjust="spacingAndGlyphs" >Bedroom</text>
<text x="665.00" y="853.25" font-size="12.5" font-weight="bold" text-anchor="middle" fill="#111" textLength="58.0" lengthAdjust="spacingAndGlyphs" >8'5 (2.57)</text>
<text x="665.00" y="868.25" font-size="12.5" font-weight="bold" text-anchor="middle" fill="#111" textLength="60.5" lengthAdjust="spacingAndGlyphs" >x 7' (2.13)</text>
<text x="633.10" y="686.90" font-size="10.576923076923077" font-weight="bold" text-anchor="start" fill="#111" textLength="31.9" lengthAdjust="spacingAndGlyphs" >Down</text>
<text x="649.40" y="762.50" font-size="10.576923076923077" font-weight="bold" text-anchor="start" fill="#111" textLength="14.4" lengthAdjust="spacingAndGlyphs" >Up</text>
<text x="581.25" y="989.50" font-size="16" font-weight="bold" text-anchor="middle" fill="#111" textLength="77.5" lengthAdjust="spacingAndGlyphs" >First Floor</text>
</g>
<g id="outbuildings">
<rect x="789.80" y="216.60" width="141.20" height="219.80" fill="#a3001e" />
<rect x="802.80" y="229.40" width="116.40" height="194.50" fill="#f4f3f1" />
<rect x="832.00" y="216.60" width="55.60" height="12.80" fill="#f4f3f1" />
<line x1="832.00" y1="217.00" x2="887.60" y2="217.00" stroke="#b01030" stroke-width="0.7" />
<line x1="832.00" y1="223.50" x2="887.60" y2="223.50" stroke="#b01030" stroke-width="0.7" />
<line x1="832.00" y1="229.00" x2="887.60" y2="229.00" stroke="#b01030" stroke-width="0.7" />
<rect x="789.80" y="292.90" width="13.40" height="67.70" fill="#f4f3f1" />
<path d="M802.8 292.9 H757 A39.7 33.5 0 0 0 796.7 326.4 A39.7 34.2 0 0 0 757 360.6 H802.8 Z" stroke="none" stroke-width="0" fill="#f4f3f1" />
<path d="M757 292.9 A39.7 33.5 0 0 0 796.7 326.4 A39.7 34.2 0 0 0 757 360.6" stroke="#b01030" stroke-width="0.9" fill="none" />
<line x1="756.60" y1="293.20" x2="797.00" y2="293.20" stroke="#a3001e" stroke-width="1.3" />
<line x1="756.60" y1="360.30" x2="797.00" y2="360.30" stroke="#a3001e" stroke-width="1.3" />
<text x="859.50" y="308.70" font-size="12.5" font-weight="bold" text-anchor="middle" fill="#111" textLength="35.7" lengthAdjust="spacingAndGlyphs" >Study</text>
<text x="859.50" y="323.60" font-size="12.5" font-weight="bold" text-anchor="middle" fill="#111" textLength="65.4" lengthAdjust="spacingAndGlyphs" >13'4 (4.06)</text>
<text x="859.50" y="338.50" font-size="12.5" font-weight="bold" text-anchor="middle" fill="#111" textLength="69.0" lengthAdjust="spacingAndGlyphs" >x 7'9 (2.36)</text>
<rect x="789.60" y="501.30" width="141.40" height="304.70" fill="#a3001e" />
<rect x="802.10" y="514.10" width="116.70" height="284.90" fill="#f4f3f1" />
<rect x="809.40" y="793.50" width="102.60" height="6.00" fill="#f4f3f1" />
<rect x="809.40" y="800.60" width="102.60" height="5.90" fill="#fff" />
<line x1="809.40" y1="799.80" x2="912.00" y2="799.80" stroke="#a3001e" stroke-width="1.8" />
<rect x="789.60" y="526.70" width="12.90" height="33.50" fill="#f4f3f1" />
<path d="M802.1 526.7 H756.6 A33.5 33.5 0 0 0 790 560.2 H802.1 Z" stroke="none" stroke-width="0" fill="#f4f3f1" />
<path d="M756.6 526.7 A33.5 33.5 0 0 0 790 560.2" stroke="#b01030" stroke-width="0.9" fill="none" />
<line x1="756.40" y1="527.00" x2="797.00" y2="527.00" stroke="#a3001e" stroke-width="1.3" />
<rect x="789.60" y="578.60" width="12.50" height="26.80" fill="#f4f3f1" />
<line x1="790.00" y1="578.60" x2="790.00" y2="605.40" stroke="#b01030" stroke-width="0.7" />
<line x1="795.50" y1="578.60" x2="795.50" y2="605.40" stroke="#b01030" stroke-width="0.7" />
<line x1="801.70" y1="578.60" x2="801.70" y2="605.40" stroke="#b01030" stroke-width="0.7" />
<rect x="789.60" y="646.80" width="12.50" height="55.40" fill="#f4f3f1" />
<line x1="790.00" y1="646.80" x2="790.00" y2="702.20" stroke="#b01030" stroke-width="0.7" />
<line x1="795.50" y1="646.80" x2="795.50" y2="702.20" stroke="#b01030" stroke-width="0.7" />
<line x1="801.70" y1="646.80" x2="801.70" y2="702.20" stroke="#b01030" stroke-width="0.7" />
<rect x="789.60" y="744.80" width="12.50" height="27.40" fill="#f4f3f1" />
<line x1="790.00" y1="744.80" x2="790.00" y2="772.20" stroke="#b01030" stroke-width="0.7" />
<line x1="795.50" y1="744.80" x2="795.50" y2="772.20" stroke="#b01030" stroke-width="0.7" />
<line x1="801.70" y1="744.80" x2="801.70" y2="772.20" stroke="#b01030" stroke-width="0.7" />
<text x="861.00" y="632.20" font-size="12.5" font-weight="bold" text-anchor="middle" fill="#111" textLength="44.6" lengthAdjust="spacingAndGlyphs" >Garage</text>
<text x="861.00" y="647.00" font-size="12.5" font-weight="bold" text-anchor="middle" fill="#111" textLength="65.3" lengthAdjust="spacingAndGlyphs" >19'1 (5.81)</text>
<text x="861.00" y="661.80" font-size="12.5" font-weight="bold" text-anchor="middle" fill="#111" textLength="67.7" lengthAdjust="spacingAndGlyphs" >x 8'1 (2.46)</text>
<line x1="753.10" y1="933.30" x2="753.10" y2="997.70" stroke="#eab4bf" stroke-width="0.8" stroke-dasharray="5.4 3.1"/>
<line x1="774.60" y1="933.30" x2="774.60" y2="997.70" stroke="#eab4bf" stroke-width="0.8" stroke-dasharray="5.4 3.1"/>
<line x1="801.90" y1="933.30" x2="801.90" y2="997.70" stroke="#eab4bf" stroke-width="0.8" stroke-dasharray="5.4 3.1"/>
<line x1="829.40" y1="933.30" x2="829.40" y2="997.70" stroke="#eab4bf" stroke-width="0.8" stroke-dasharray="5.4 3.1"/>
<line x1="857.30" y1="933.30" x2="857.30" y2="997.70" stroke="#eab4bf" stroke-width="0.8" stroke-dasharray="5.4 3.1"/>
<line x1="884.60" y1="933.30" x2="884.60" y2="997.70" stroke="#eab4bf" stroke-width="0.8" stroke-dasharray="5.4 3.1"/>
<line x1="905.60" y1="933.30" x2="905.60" y2="997.70" stroke="#eab4bf" stroke-width="0.8" stroke-dasharray="5.4 3.1"/>
<line x1="753.10" y1="933.30" x2="905.60" y2="933.30" stroke="#eab4bf" stroke-width="0.8" stroke-dasharray="5.4 3.1"/>
<line x1="753.10" y1="997.70" x2="905.60" y2="997.70" stroke="#eab4bf" stroke-width="0.8" stroke-dasharray="5.4 3.1"/>
<text x="829.00" y="962.00" font-size="16" font-weight="bold" text-anchor="middle" fill="#111" textLength="143.5" lengthAdjust="spacingAndGlyphs" >Denotes restricted</text>
<text x="829.20" y="977.80" font-size="16" font-weight="bold" text-anchor="middle" fill="#111" textLength="94.5" lengthAdjust="spacingAndGlyphs" >head height</text>
</g>
<g id="footer">
<rect x="36.25" y="1092.00" width="83.75" height="73.50" fill="#a3001e" />
<rect x="36.25" y="1165.50" width="21.25" height="8.25" fill="#cd8818" />
<rect x="57.50" y="1165.50" width="20.50" height="8.25" fill="#7b2e83" />
<rect x="78.00" y="1165.50" width="21.00" height="8.25" fill="#2e989a" />
<rect x="99.00" y="1165.50" width="21.00" height="8.25" fill="#94952f" />
<text x="39.90" y="1159.60" font-size="19.5" font-weight="normal" text-anchor="start" fill="#fff" textLength="76.2" lengthAdjust="spacingAndGlyphs" >kfh.co.uk</text>
<text x="131.75" y="1092.60" font-size="19" font-weight="normal" text-anchor="start" fill="#111" textLength="175.8" lengthAdjust="spacingAndGlyphs"  stroke="#111" stroke-width="0.8" stroke-linejoin="round">Riverview Park SE6</text>
<text x="131.75" y="1117.00" font-size="19" font-weight="normal" text-anchor="start" fill="#111" textLength="221.4" lengthAdjust="spacingAndGlyphs"  stroke="#111" stroke-width="0.8" stroke-linejoin="round">Total internal floor area</text>
<text x="131.75" y="1141.50" font-size="19" font-weight="normal" text-anchor="start" fill="#111" textLength="622.9" lengthAdjust="spacingAndGlyphs"  stroke="#111" stroke-width="0.8" stroke-linejoin="round">(Includes restricted head height &amp; garage &amp; excludes outbuilding)</text>
<text x="131.75" y="1166.00" font-size="19" font-weight="normal" text-anchor="start" fill="#111" textLength="251.0" lengthAdjust="spacingAndGlyphs"  stroke="#111" stroke-width="0.8" stroke-linejoin="round">1993 sq ft 185.1 sq metres</text>
<text x="131.75" y="1189.30" font-size="13" font-weight="normal" text-anchor="start" fill="#111" textLength="224.0" lengthAdjust="spacingAndGlyphs"  stroke="#111" stroke-width="0.65" stroke-linejoin="round">Copyright nichecom.co.uk 2013</text>
<text x="374.60" y="1189.30" font-size="13" font-weight="normal" text-anchor="start" fill="#111" textLength="89.6" lengthAdjust="spacingAndGlyphs"  stroke="#111" stroke-width="0.65" stroke-linejoin="round">REF : 422651</text>
</g>
</svg>
</body></html>
